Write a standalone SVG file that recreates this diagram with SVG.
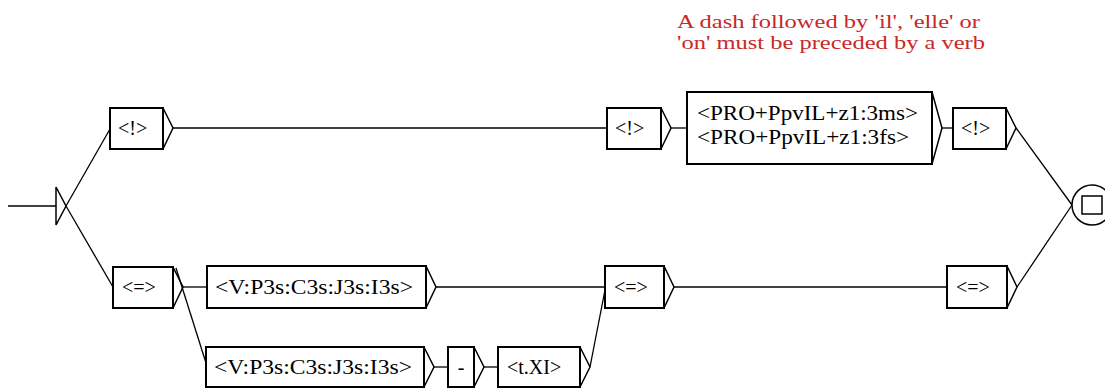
<svg xmlns="http://www.w3.org/2000/svg" width="1105" height="388" viewBox="0 0 1105 388">
<style>
.box{fill:#fff;stroke:#000;stroke-width:2}
.tip{fill:none;stroke:#000;stroke-width:1.5}
.c{fill:none;stroke:#000;stroke-width:1.3}
.t{font-family:"Liberation Serif","Times New Roman",serif;font-size:20px;fill:#000}
.cm{font-family:"Liberation Serif","Times New Roman",serif;font-size:19px;fill:#c82828}
</style>
<rect width="1105" height="388" fill="#fff"/>
<g id="comment">
<text class="cm" x="677" y="28" textLength="303" lengthAdjust="spacingAndGlyphs">A dash followed by 'il', 'elle' or</text>
<text class="cm" x="677" y="49" textLength="308" lengthAdjust="spacingAndGlyphs">'on' must be preceded by a verb</text>
</g>
<g id="connectors">
<path class="c" d="M8 206H56"/>
<path class="c" d="M66 206L110 129"/>
<path class="c" d="M66 206L113 287"/>
<path class="c" d="M173 128H607"/>
<path class="c" d="M671 128H687"/>
<path class="c" d="M942 128H953"/>
<path class="c" d="M1016 128L1072 205"/>
<path class="c" d="M183 287H207"/>
<path class="c" d="M176 268L206 363"/>
<path class="c" d="M436 287H605"/>
<path class="c" d="M434 367H448"/>
<path class="c" d="M484 367H498"/>
<path class="c" d="M590 367L605 290"/>
<path class="c" d="M674 287H947"/>
<path class="c" d="M1017 287L1072 205"/>
</g>
<g id="initial">
<path class="tip" d="M56 187V225L66 206Z"/>
</g>
<g id="n_excl1">
<rect class="box" x="110" y="108" width="53" height="41"/>
<path class="tip" d="M163 108L173 128L163 149"/>
<text class="t" x="118" y="135">&lt;!&gt;</text>
</g>
<g id="n_excl2">
<rect class="box" x="607" y="108" width="54" height="41"/>
<path class="tip" d="M661 108L671 128L661 149"/>
<text class="t" x="615" y="135">&lt;!&gt;</text>
</g>
<g id="n_pro">
<rect class="box" x="687" y="92" width="245" height="72"/>
<path class="tip" d="M932 92L942 128L932 164"/>
<text class="t" x="697" y="120" textLength="221" lengthAdjust="spacingAndGlyphs">&lt;PRO+PpvIL+z1:3ms&gt;</text>
<text class="t" x="697" y="144" textLength="212" lengthAdjust="spacingAndGlyphs">&lt;PRO+PpvIL+z1:3fs&gt;</text>
</g>
<g id="n_excl3">
<rect class="box" x="953" y="108" width="53" height="41"/>
<path class="tip" d="M1006 108L1016 128L1006 149"/>
<text class="t" x="961" y="135">&lt;!&gt;</text>
</g>
<g id="n_eq1">
<rect class="box" x="113" y="267" width="60" height="41"/>
<path class="tip" d="M173 267L183 287L173 308"/>
<text class="t" x="122" y="294">&lt;=&gt;</text>
</g>
<g id="n_v1">
<rect class="box" x="207" y="266" width="219" height="42"/>
<path class="tip" d="M426 266L436 287L426 308"/>
<text class="t" x="215" y="294" textLength="198" lengthAdjust="spacingAndGlyphs">&lt;V:P3s:C3s:J3s:I3s&gt;</text>
</g>
<g id="n_v2">
<rect class="box" x="206" y="347" width="218" height="40"/>
<path class="tip" d="M424 347L434 367L424 387"/>
<text class="t" x="214" y="374" textLength="198" lengthAdjust="spacingAndGlyphs">&lt;V:P3s:C3s:J3s:I3s&gt;</text>
</g>
<g id="n_dash">
<rect class="box" x="448" y="347" width="26" height="40"/>
<path class="tip" d="M474 347L484 367L474 387"/>
<text class="t" x="461" y="374" text-anchor="middle">-</text>
</g>
<g id="n_txi">
<rect class="box" x="498" y="347" width="82" height="40"/>
<path class="tip" d="M580 347L590 367L580 387"/>
<text class="t" x="507" y="374">&lt;t.XI&gt;</text>
</g>
<g id="n_eq2">
<rect class="box" x="605" y="266" width="59" height="42"/>
<path class="tip" d="M664 266L674 287L664 308"/>
<text class="t" x="614" y="294">&lt;=&gt;</text>
</g>
<g id="n_eq3">
<rect class="box" x="947" y="266" width="60" height="42"/>
<path class="tip" d="M1007 266L1017 287L1007 308"/>
<text class="t" x="956" y="294">&lt;=&gt;</text>
</g>
<g id="final">
<circle cx="1092" cy="205" r="20" fill="#fff" stroke="#000" stroke-width="1.5"/>
<rect x="1082" y="196" width="20" height="18" fill="none" stroke="#000" stroke-width="1.5"/>
</g>
</svg>
